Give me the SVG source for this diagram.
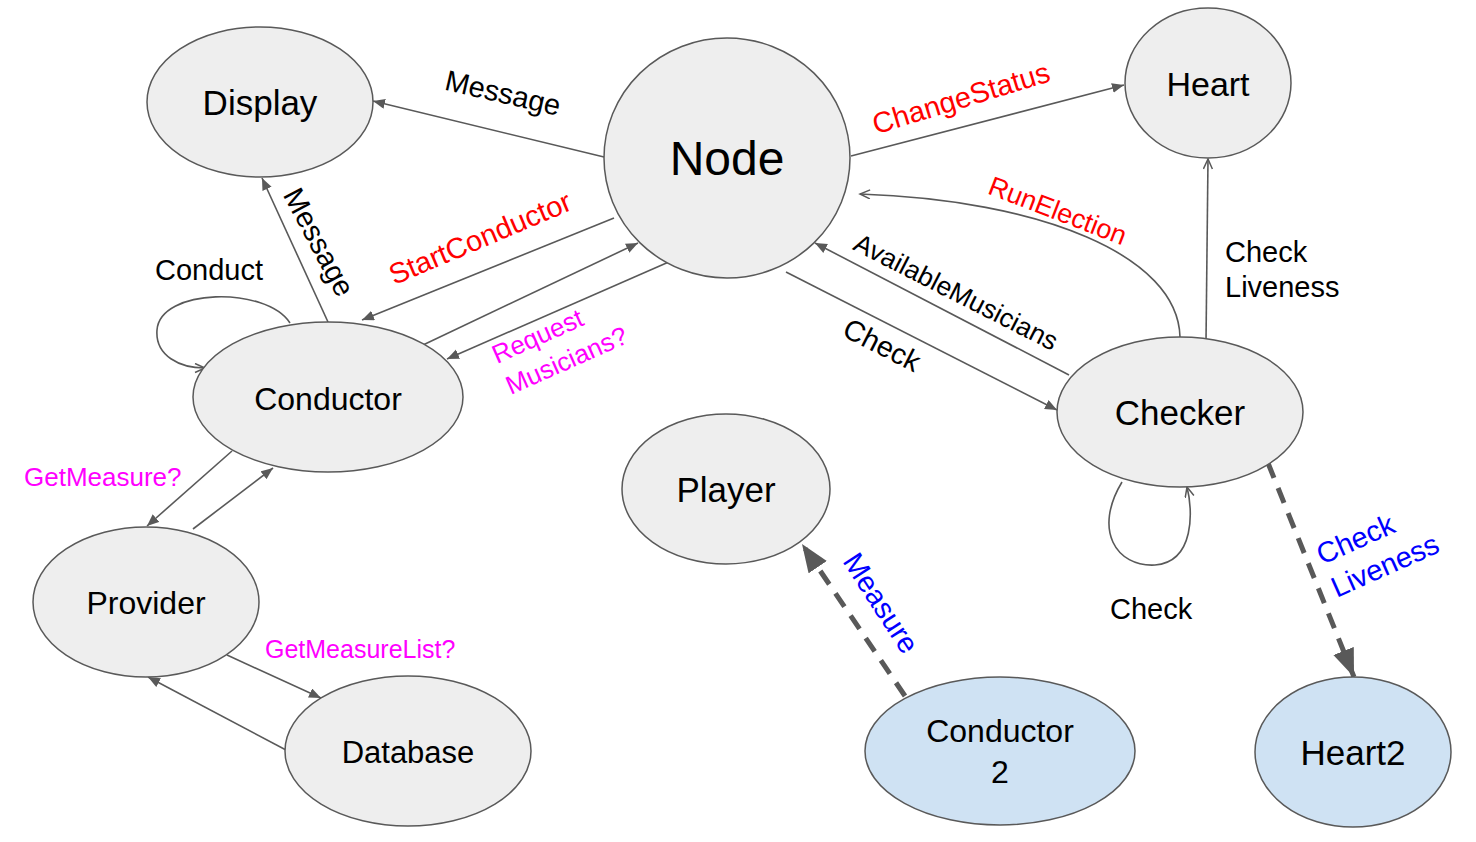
<svg xmlns="http://www.w3.org/2000/svg" width="1476" height="842" viewBox="0 0 1476 842">
<style>
.n{fill:#eeeeee;stroke:#595959;stroke-width:1.5}
.b{fill:#cfe2f3;stroke:#595959;stroke-width:1.5}
.nl{font-family:"Liberation Sans",Arial,sans-serif;fill:#000;text-anchor:middle}
.e{fill:none;stroke:#595959;stroke-width:1.6}
.d{fill:none;stroke:#595959;stroke-width:5;stroke-dasharray:16 11}
.t{font-family:"Liberation Sans",Arial,sans-serif;font-size:29px}
.k{fill:#000}.r{fill:#ff0000}.m{fill:#ff00ff}.u{fill:#0000ff}
</style>
<defs>
<marker id="arr" markerUnits="userSpaceOnUse" markerWidth="14" markerHeight="12" refX="12" refY="5" orient="auto"><path d="M0,0 L12,5 L0,10 z" fill="#595959"/></marker>
<marker id="open" markerUnits="userSpaceOnUse" markerWidth="14" markerHeight="12" refX="11" refY="5" orient="auto"><path d="M1,0.5 L11,5 L1,9.5" fill="none" stroke="#595959" stroke-width="1.5"/></marker>
<marker id="big" markerUnits="userSpaceOnUse" markerWidth="30" markerHeight="24" refX="28" refY="11" orient="auto"><path d="M0,0 L28,11 L0,22 z" fill="#595959"/></marker>
</defs>
<rect width="1476" height="842" fill="#fff"/>
<g id="connectors">
<path class="e" d="M604,157 L373,101" marker-end="url(#arr)"/>
<path class="e" d="M328,322 L262,178" marker-end="url(#arr)"/>
<path class="e" d="M614,218 L362,320" marker-end="url(#arr)"/>
<path class="e" d="M423,345 L638,243" marker-end="url(#arr)"/>
<path class="e" d="M671,261 L447,359" marker-end="url(#arr)"/>
<path class="e" d="M290,323 C266,286 160,288 157,330 C155,356 180,368 205,368" marker-end="url(#open)"/>
<path class="e" d="M851,156 L1124,85" marker-end="url(#arr)"/>
<path class="e" d="M1206,342 L1208,159" marker-end="url(#open)"/>
<path class="e" d="M1180,337 C1178,255 1040,200 860,194" marker-end="url(#open)"/>
<path class="e" d="M1069,375 L815,243" marker-end="url(#arr)"/>
<path class="e" d="M786,272 L1057,410" marker-end="url(#arr)"/>
<path class="e" d="M1122,482 C1093,530 1116,567 1155,565 C1195,562 1193,510 1187,487" marker-end="url(#open)"/>
<path class="d" d="M905,696 L802,544" marker-end="url(#big)"/>
<path class="d" d="M1268,463 L1354,677" marker-end="url(#big)"/>
<path class="e" d="M232,451 L147,526" marker-end="url(#arr)"/>
<path class="e" d="M193,529 L273,468" marker-end="url(#arr)"/>
<path class="e" d="M227,655 L321,698" marker-end="url(#arr)"/>
<path class="e" d="M286,750 L148,677" marker-end="url(#arr)"/>
</g>
<g id="labels">
<text class="t k" text-anchor="middle" transform="translate(503,93) rotate(13)" y="10">Message</text>
<text class="t k" text-anchor="middle" transform="translate(319,242) rotate(62)" y="10">Message</text>
<text class="t k" x="155" y="280">Conduct</text>
<text class="t r" text-anchor="middle" transform="translate(480,238) rotate(-23)" y="10">StartConductor</text>
<text class="t r" text-anchor="middle" transform="translate(961,98) rotate(-17)" y="10">ChangeStatus</text>
<text class="t r" text-anchor="middle" style="font-size:27px" transform="translate(1058,210) rotate(21)" y="10">RunElection</text>
<text class="t k" text-anchor="middle" style="font-size:26.5px" transform="translate(956,292) rotate(27)" y="9">AvailableMusicians</text>
<text class="t k" text-anchor="middle" transform="translate(882,345) rotate(27)" y="10">Check</text>
<text class="t k" x="1225" y="262">Check</text>
<text class="t k" x="1225" y="297">Liveness</text>
<g transform="translate(497,364) rotate(-24)"><text class="t m" style="font-size:26px" x="0" y="0">Request</text><text class="t m" style="font-size:26px" x="0" y="34">Musicians?</text></g>
<text class="t m" style="font-size:26px" x="24" y="486">GetMeasure?</text>
<text class="t m" style="font-size:25px" x="265" y="658">GetMeasureList?</text>
<text class="t u" text-anchor="middle" transform="translate(881,603) rotate(57)" y="10">Measure</text>
<g transform="translate(1322,565) rotate(-24)"><text class="t u" x="0" y="0">Check</text><text class="t u" x="0" y="36">Liveness</text></g>
<text class="t k" x="1110" y="619">Check</text>
</g>
<g id="display"><ellipse class="n" cx="260" cy="102" rx="113" ry="75"/><text class="nl" x="260" y="115" font-size="35">Display</text></g>
<g id="node"><ellipse class="n" cx="727" cy="158" rx="123" ry="120"/><text class="nl" x="727" y="175" font-size="48">Node</text></g>
<g id="heart"><ellipse class="n" cx="1208" cy="83" rx="83" ry="75"/><text class="nl" x="1208" y="96" font-size="34">Heart</text></g>
<g id="conductor"><ellipse class="n" cx="328" cy="397" rx="135" ry="75"/><text class="nl" x="328" y="410" font-size="32">Conductor</text></g>
<g id="checker"><ellipse class="n" cx="1180" cy="412" rx="123" ry="75"/><text class="nl" x="1180" y="425" font-size="35">Checker</text></g>
<g id="player"><ellipse class="n" cx="726" cy="489" rx="104" ry="75"/><text class="nl" x="726" y="502" font-size="35">Player</text></g>
<g id="provider"><ellipse class="n" cx="146" cy="602" rx="113" ry="75"/><text class="nl" x="146" y="614" font-size="32">Provider</text></g>
<g id="database"><ellipse class="n" cx="408" cy="751" rx="123" ry="75"/><text class="nl" x="408" y="763" font-size="31">Database</text></g>
<g id="conductor2"><ellipse class="b" cx="1000" cy="751" rx="135" ry="74"/><text class="nl" x="1000" y="742" font-size="32">Conductor</text><text class="nl" x="1000" y="783" font-size="32">2</text></g>
<g id="heart2"><ellipse class="b" cx="1353" cy="752" rx="98" ry="75"/><text class="nl" x="1353" y="765" font-size="35">Heart2</text></g>
</svg>
